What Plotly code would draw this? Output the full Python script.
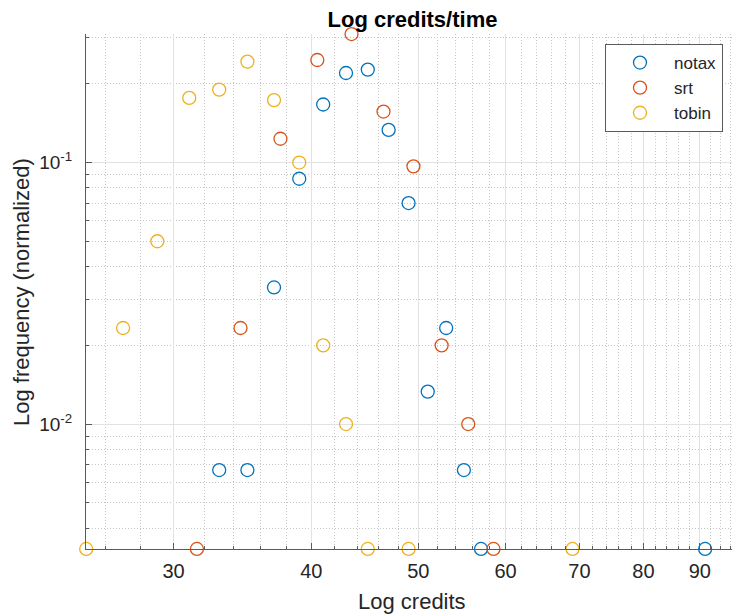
import math
import plotly.graph_objects as go

# Credits per unit time, normalized frequency for each tax regime
notax_x = [33, 35, 37, 39, 41, 43, 45, 47, 49, 51, 53, 55, 57, 91]
notax_y = [0.00667, 0.00667, 0.0333, 0.0867, 0.1667, 0.22, 0.2267, 0.1333,
           0.07, 0.0133, 0.0233, 0.00667, 0.00333, 0.00333]

srt_x = [31.5, 34.5, 37.5, 40.5, 43.5, 46.5, 49.5, 52.5, 55.5, 58.5]
srt_y = [0.00333, 0.0233, 0.1233, 0.2467, 0.31, 0.1567, 0.0967, 0.02, 0.01, 0.00333]

tobin_x = [25, 27, 29, 31, 33, 35, 37, 39, 41, 43, 45, 49, 69]
tobin_y = [0.00333, 0.0233, 0.05, 0.1767, 0.19, 0.2433, 0.1733, 0.1, 0.02, 0.01,
           0.00333, 0.00333, 0.00333]

series_names = ["notax", "srt", "tobin"]
series_colors = ["#0072BD", "#D95319", "#EDB120"]

x_ticks = [30, 40, 50, 60, 70, 80, 90]
x_minor = [26, 28, 32, 34, 36, 38, 42, 44, 46, 48, 52, 54, 56, 58, 62, 64, 66, 68,
           72, 74, 76, 78, 82, 84, 86, 88, 92, 94, 96]
y_ticks = [0.01, 0.1]
y_ticktext = ["10<sup>-2</sup>", "10<sup>-1</sup>"]
y_minor = [0.004, 0.005, 0.006, 0.007, 0.008, 0.009,
           0.02, 0.03, 0.04, 0.05, 0.06, 0.07, 0.08, 0.09, 0.2, 0.3]

FONT = "Liberation Sans, Arial, Helvetica, sans-serif"
TXT = "#262626"
AXIS = "#5a5a5a"

W, H = 732, 616
L, R, T, B = 86, 0, 34, 67

fig = go.Figure()
for name, xs, ys, col in zip(series_names, [notax_x, srt_x, tobin_x],
                             [notax_y, srt_y, tobin_y], series_colors):
    fig.add_trace(go.Scatter(
        x=xs, y=ys, mode="markers", name=name, cliponaxis=False,
        marker=dict(symbol="circle-open", size=13, color=col,
                    line=dict(width=1.3, color=col)),
    ))

# tight log limits around the data (a hair of slack so edge points stay drawn)
all_x = notax_x + srt_x + tobin_x
all_y = notax_y + srt_y + tobin_y
eps = 2e-4
x_px_per_decade = 1103.0
xmin_log = math.log10(min(all_x)) - eps
xmax_log = xmin_log + (W - L - R) / x_px_per_decade
ymin_log = math.log10(min(all_y)) - eps
ymax_log = math.log10(max(all_y)) + eps

axis_common = dict(
    type="log",
    showline=True, linecolor=AXIS, linewidth=1, mirror=False,
    ticks="inside", ticklen=6, tickwidth=1, tickcolor=AXIS,
    showgrid=True, gridcolor="#e2e2e2", gridwidth=1,
    zeroline=False,
)
minor_common = dict(tickmode="array", ticks="inside", ticklen=3, tickcolor=AXIS,
                    showgrid=True, gridcolor="#c4c4c4", griddash="1px,2px",
                    gridwidth=1)

fig.update_xaxes(
    **axis_common,
    range=[xmin_log, xmax_log],
    tickmode="array", tickvals=x_ticks, ticktext=[str(v) for v in x_ticks],
    tickfont=dict(family=FONT, size=20, color=TXT),
    minor=dict(tickvals=x_minor, **minor_common),
    ticklabelstandoff=4,
)
fig.update_yaxes(
    **axis_common,
    range=[ymin_log, ymax_log],
    tickmode="array", tickvals=y_ticks, ticktext=y_ticktext,
    tickfont=dict(family=FONT, size=19, color=TXT),
    minor=dict(tickvals=y_minor, **minor_common),
    ticklabelstandoff=9,
)

fig.add_annotation(text="Log credits", xref="paper", yref="paper",
                   x=(412.2 - L) / (W - L - R), y=(H - B - 601.5) / (H - T - B),
                   xanchor="center", yanchor="middle", showarrow=False,
                   font=dict(family=FONT, size=22, color=TXT))
fig.add_annotation(text="Log frequency (normalized)", xref="paper", yref="paper",
                   x=(21 - L) / (W - L - R), y=(H - B - 292) / (H - T - B),
                   xanchor="center", yanchor="middle", textangle=-90,
                   showarrow=False, font=dict(family=FONT, size=22, color=TXT))

fig.update_layout(
    width=W, height=H,
    margin=dict(l=L, r=R, t=T, b=B, pad=0),
    paper_bgcolor="white", plot_bgcolor="white",
    font=dict(family=FONT, color=TXT),
    title=dict(text="<b>Log credits/time</b>", xref="container", yref="container",
               x=412.5 / W, y=1 - 19 / H, xanchor="center", yanchor="middle",
               font=dict(family=FONT, size=22, color="black")),
    legend=dict(x=(723 - L) / (W - L - R), y=(H - B - 88) / (H - T - B),
                xanchor="right", yanchor="middle",
                bgcolor="white", bordercolor=AXIS, borderwidth=1,
                font=dict(family=FONT, size=17, color=TXT),
                itemwidth=58),
    showlegend=True,
)

fig.write_html("out.html")
